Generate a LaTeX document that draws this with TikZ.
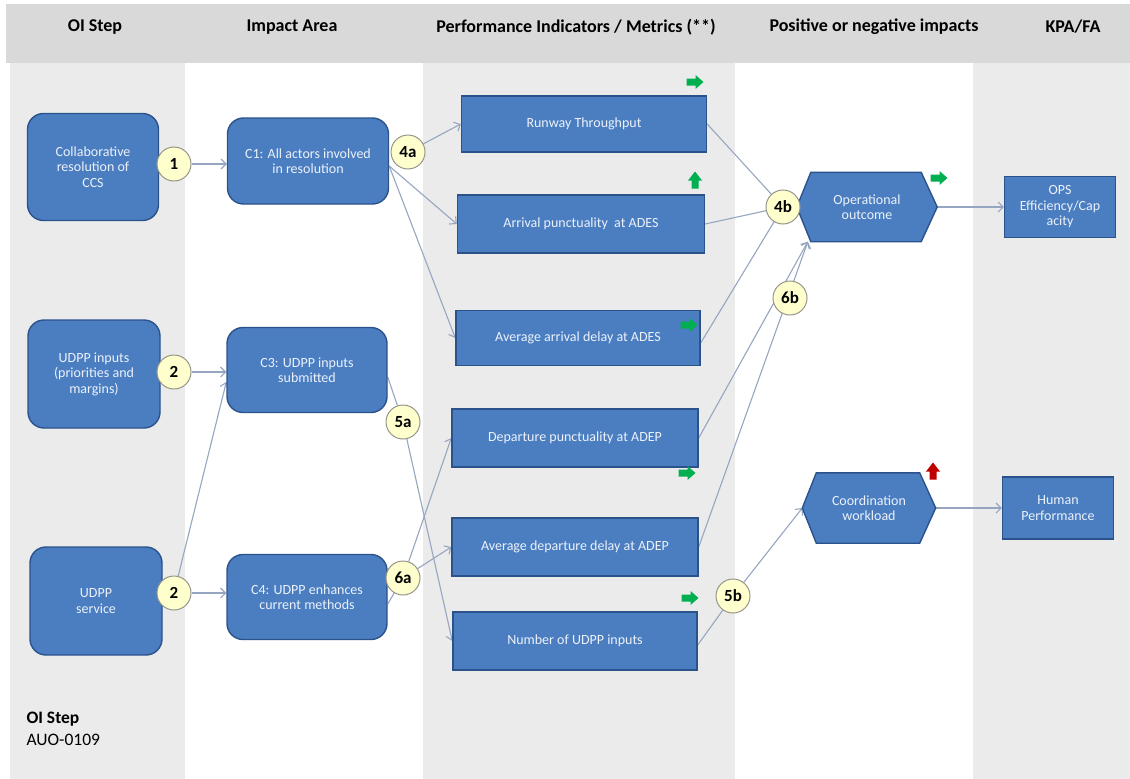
\documentclass[tikz,border=0pt]{standalone}
\usepackage{fontspec}
\setmainfont{Carlito}
\usetikzlibrary{arrows.meta}

\definecolor{bandgray}{RGB}{235,235,235}
\definecolor{headgray}{RGB}{217,217,217}
\definecolor{boxfill}{RGB}{74,126,193}
\definecolor{boxedge}{RGB}{44,82,140}
\definecolor{boxtext}{RGB}{236,241,250}
\definecolor{tagfill}{RGB}{255,255,206}
\definecolor{tagedge}{RGB}{150,150,140}
\definecolor{linkcol}{RGB}{150,166,192}
\definecolor{upgreen}{RGB}{0,176,80}
\definecolor{downred}{RGB}{192,0,0}

\pgfdeclarelayer{bands}
\pgfdeclarelayer{links}
\pgfdeclarelayer{hexes}
\pgfsetlayers{bands,links,hexes,main}

\begin{document}
\begin{tikzpicture}[x=1pt,y=-1pt,
  box/.style={draw=boxedge, fill=boxfill, line width=1.4pt, text=boxtext,
    align=center, inner sep=0pt, font=\fontsize{14}{15.5}\selectfont},
  rbox/.style={box, rounded corners=16pt},
  hexlabel/.style={inner sep=0pt, text=boxtext, align=center,
    font=\fontsize{14}{15.5}\selectfont},
  hexshape/.style={draw=boxedge, fill=boxfill, line width=1.4pt},
  tag/.style={circle, draw=tagedge, fill=tagfill, line width=1pt,
    minimum size=34pt, inner sep=0pt, font=\fontsize{17}{17}\selectfont\bfseries},
  link/.style={draw=linkcol, line width=1.1pt},
  arr/.style={link, -{Straight Barb[length=5pt,width=10pt]}},
  colhead/.style={font=\fontsize{18}{18}\selectfont\bfseries},
  pics/blockr/.style={code={\fill[#1] (-8.5,-3.5) -- (0.5,-3.5) -- (0.5,-7) -- (8.5,0)
      -- (0.5,7) -- (0.5,3.5) -- (-8.5,3.5) -- cycle;}},
  pics/blocku/.style={code={\fill[#1] (-3.5,8.5) -- (-3.5,0.5) -- (-7,0.5) -- (0,-8.5)
      -- (7,0.5) -- (3.5,0.5) -- (3.5,8.5) -- cycle;}},
]
\useasboundingbox (0,0) rectangle (1130,779);

% column bands and header strip
\begin{pgfonlayer}{bands}
  \fill[white] (0,0) rectangle (1130,779);
  \fill[bandgray] (10,63) rectangle (185,779);
  \fill[bandgray] (423,63) rectangle (735,779);
  \fill[bandgray] (973,63) rectangle (1130,779);
  \fill[headgray] (6,4) rectangle (1130,63);
\end{pgfonlayer}

% column headings
\node[colhead] (h1) at (95,27) {OI Step};
\node[colhead] (h2) at (292,27) {Impact Area};
\node[colhead] (h3) at (576,27) {Performance Indicators / Metrics (**)};
\node[colhead] (h4) at (874,27) {Positive or negative impacts};
\node[colhead] (h5) at (1073,27) {KPA/FA};

% OI step boxes
\node[rbox, minimum width=131pt, minimum height=107pt] (ccs) at (93,167)
  {Collaborative\\resolution of\\CCS};
\node[rbox, minimum width=132pt, minimum height=108pt] (uin) at (94,374)
  {UDPP inputs\\(priorities and\\margins)};
\node[rbox, minimum width=132pt, minimum height=108pt] (usv) at (96,601)
  {UDPP\\service};

% impact areas
\node[rbox, minimum width=161pt, minimum height=86pt] (c1) at (308,161)
  {C1: All actors involved\\in resolution};
\node[rbox, minimum width=160pt, minimum height=85pt] (c3) at (307,370)
  {C3: UDPP inputs\\submitted};
\node[rbox, minimum width=160pt, minimum height=85pt] (c4) at (307,597)
  {C4: UDPP enhances\\current methods};

% performance indicators
\node[box, minimum width=245pt, minimum height=56pt] (rwy) at (584,124) {Runway Throughput};
\node[box, minimum width=247pt, minimum height=58pt] (arp) at (581,224) {Arrival punctuality\ \ at ADES};
\node[box, minimum width=244pt, minimum height=55pt] (ard) at (578,338) {Average arrival delay at ADES};
\node[box, minimum width=246pt, minimum height=58pt] (dpp) at (575,438) {Departure punctuality at ADEP};
\node[box, minimum width=246pt, minimum height=58pt] (dpd) at (575,547) {Average departure delay at ADEP};
\node[box, minimum width=244pt, minimum height=58pt] (nui) at (575,641) {Number of UDPP inputs};

% impacts (hexagons)
\node[hexlabel, minimum width=140pt, minimum height=69pt] (opo) at (867,207) {Operational\\outcome};
\node[hexlabel, minimum width=133pt, minimum height=70pt] (cwl) at (869,508) {Coordination\\workload};
\begin{pgfonlayer}{hexes}
  \path[hexshape] (opo.west) -- ([xshift=14pt]opo.north west) -- ([xshift=-16pt]opo.north east)
    -- (opo.east) -- ([xshift=-16pt]opo.south east) -- ([xshift=14pt]opo.south west) -- cycle;
  \path[hexshape] (cwl.west) -- ([xshift=14pt]cwl.north west) -- ([xshift=-16pt]cwl.north east)
    -- (cwl.east) -- ([xshift=-16pt]cwl.south east) -- ([xshift=14pt]cwl.south west) -- cycle;
\end{pgfonlayer}

% KPA / FA
\node[box, minimum width=111pt, minimum height=61pt] (ops) at (1060,207) {OPS\\Efficiency/Cap\\acity};
\node[box, minimum width=111pt, minimum height=62pt] (hpf) at (1058,508) {Human\\Performance};

% numbered tags
\node[tag] (t1)  at (174,164) {1};
\node[tag] (t2a) at (174,372) {2};
\node[tag] (t2b) at (174,593) {2};
\node[tag] (t4a) at (408,152) {4a};
\node[tag] (t4b) at (783,207) {4b};
\node[tag] (t5a) at (403,422) {5a};
\node[tag] (t6a) at (403,578) {6a};
\node[tag] (t6b) at (790,298) {6b};
\node[tag] (t5b) at (733,596) {5b};

% connectors
\begin{pgfonlayer}{links}
  \draw[arr] (t1) -- (c1.west |- t1);
  \draw[arr] (t2a) -- (c3.west |- t2a);
  \draw[arr] (t2b) -- (c4.west |- t2b);
  \draw[arr] (t2b) -- ([yshift=-12pt]c3.west);

  \draw[arr] (t4a) -- (rwy.west);
  \draw[arr] ([yshift=-5pt]c1.east) -- (arp.west);
  \draw[arr] ([yshift=-5pt]c1.east) -- (ard.west);

  \draw[link] (rwy.east) -- (t4b);
  \draw[link] (arp.east) -- (t4b);
  \draw[link] ([yshift=-5pt]ard.east) -- (t4b);

  \draw[link] ([yshift=-7pt]c3.east) -- (t5a);
  \draw[arr] (t5a) -- (nui.west);
  \draw[link] ([yshift=-7pt]c4.east) -- (t6a);
  \draw[arr] (t6a) -- (dpp.west);
  \draw[arr] (t6a) -- (dpd.west);

  \coordinate (opin) at ([xshift=11pt]opo.south west);
  \draw[arr] (dpp.east) -- (opin);
  \draw[arr] (dpd.east) -- (opin);

  \draw[link] ([yshift=-4pt]nui.east) -- (t5b);
  \draw[arr] (t5b) -- (cwl.west);

  \draw[arr] (opo.east) -- (ops.west |- opo.east);
  \draw[arr] (cwl.east) -- (hpf.west |- cwl.east);
\end{pgfonlayer}

% trend markers
\pic at (695,82) {blockr=upgreen};
\pic at (695,180) {blocku=upgreen};
\pic at (689,325) {blockr=upgreen};
\pic at (687,473) {blockr=upgreen};
\pic at (690,598) {blockr=upgreen};
\pic at (939,178) {blockr=upgreen};
\pic at (933,471) {blocku=downred};

% OI step reference
\node[anchor=west, font=\fontsize{17.5}{18}\selectfont\bfseries] (oit) at (23,719) {OI Step};
\node[anchor=west, font=\fontsize{17.5}{18}\selectfont] (oic) at (23,740) {AUO-0109};

\end{tikzpicture}
\end{document}
